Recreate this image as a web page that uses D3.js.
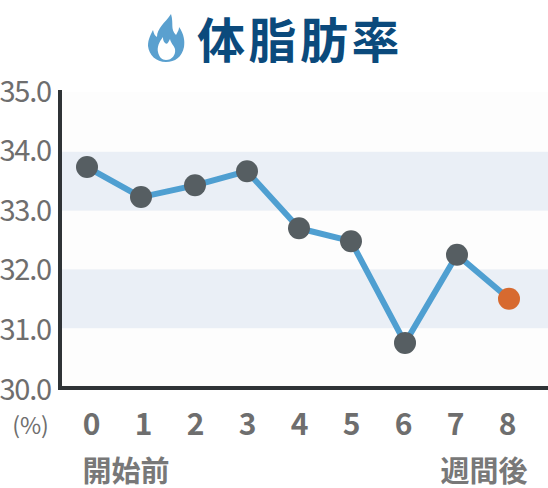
<!DOCTYPE html>
<html><head><meta charset="utf-8">
<script src="https://cdn.jsdelivr.net/npm/d3@7"></script>
<style>html,body{margin:0;padding:0;background:#fff;overflow:hidden}svg{display:block}text{font-family:"Noto Sans CJK JP","Noto Sans",sans-serif}</style>
</head><body><svg id="c" width="548" height="488"></svg>
<script>
const weeks=[0,1,2,3,4,5,6,7,8];
const bodyFat=[33.74,33.23,33.43,33.67,32.70,32.48,30.75,32.25,31.50];
const yTicks=[30,31,32,33,34,35];
const bands=[[33,34],[31,32]];
const titleText="体脂肪率";
const unitText="(%)";
const startText="開始前";
const endText="週間後";

const svg=d3.select("#c");
const y=d3.scaleLinear().domain([30,35]).range([387,93]);
const yLabel=d3.scaleLinear().domain([30,35]).range([386.5,88.5]);
const x=d3.scaleLinear().domain([0,2,5,6,8]).range([87,195,351,405,509]);
const xLabel=d3.scalePoint().domain(weeks).range([91.5,507.5]);

svg.append("rect").attr("x",62).attr("y",92).attr("width",486).attr("height",296).attr("fill","#fdfdfd");
svg.selectAll(".band").data(bands).join("rect").attr("class","band")
  .attr("x",62).attr("width",486).attr("y",d=>y(d[1])).attr("height",d=>y(d[0])-y(d[1])).attr("fill","#eaeff6");

const ax=svg.append("g");
ax.append("line").attr("x1",60).attr("x2",60).attr("y1",90).attr("y2",390).attr("stroke","#2f3336").attr("stroke-width",4);
ax.append("line").attr("x1",58).attr("x2",548).attr("y1",388).attr("y2",388).attr("stroke","#2f3336").attr("stroke-width",4);

svg.selectAll(".yl").data(yTicks).join("text").attr("class","yl")
  .attr("x",51).attr("y",d=>yLabel(d)).attr("text-anchor","end").attr("dominant-baseline","central")
  .attr("font-size",29).attr("letter-spacing",-1.2).attr("fill","#6e6e6e").text(d=>d.toFixed(1));
svg.selectAll(".xl").data(weeks).join("text").attr("class","xl")
  .attr("x",d=>xLabel(d)).attr("y",422).attr("text-anchor","middle").attr("dominant-baseline","central")
  .attr("font-size",30).attr("font-weight",700).attr("fill","#6e6e6e").text(d=>d);
svg.append("text").attr("x",30.5).attr("y",424).attr("text-anchor","middle").attr("dominant-baseline","central")
  .attr("font-size",23).attr("fill","#6e6e6e").text(unitText);
svg.append("text").attr("x",126).attr("y",469).attr("text-anchor","middle").attr("dominant-baseline","central")
  .attr("font-size",29).attr("font-weight",700).attr("fill","#787878").text(startText);
svg.append("text").attr("x",484).attr("y",469).attr("text-anchor","middle").attr("dominant-baseline","central")
  .attr("font-size",29).attr("font-weight",700).attr("fill","#787878").text(endText);

const line=d3.line().x((d,i)=>x(weeks[i])).y(d=>y(d));
svg.append("path").attr("d",line(bodyFat)).attr("fill","none").attr("stroke","#4f9fd1").attr("stroke-width",6).attr("stroke-linejoin","round");
svg.selectAll(".pt").data(bodyFat).join("circle").attr("class","pt")
  .attr("cx",(d,i)=>x(weeks[i])).attr("cy",d=>y(d)).attr("r",11)
  .attr("fill",(d,i)=>i===weeks.length-1?"#d76a30":"#565e62");

svg.append("path").attr("fill","#5aa0cf").attr("fill-rule","evenodd")
 .attr("d","M171 14 C174 24 170 29 176 35 C178 31 179 30 179 27 C184 34 185 41 184 47 C182 57 175 62 166 62 C156 62 149 55 148 46 C148 39 151 34 153 30 C154 34 155 36 157 37 C157 28 165 23 171 14 Z M166 60 C172 60 176 55 175 49 C174 45 171 44 170 39 C168 43 167 45 165 43 C163 41 163 39 163 37 C159 42 157 47 158 52 C159 57 162 60 166 60 Z");
svg.append("text").attr("x",197).attr("y",37).attr("dominant-baseline","central")
  .attr("font-size",48).attr("letter-spacing",3.5).attr("font-weight",700).attr("fill","#0b4a7c").text(titleText);
</script></body></html>
